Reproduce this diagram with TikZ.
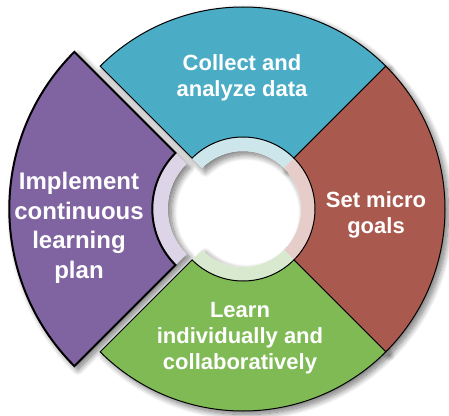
\documentclass[tikz,border=0pt]{standalone}
\usepackage{fontspec}
\setmainfont{Liberation Sans}
\usepackage{tikz}
\usetikzlibrary{shadows.blur}

\definecolor{segblue}{HTML}{4BACC6}
\definecolor{segred}{HTML}{A9594E}
\definecolor{seggreen}{HTML}{80BA55}
\definecolor{segpurple}{HTML}{8064A2}
\definecolor{bandblue}{HTML}{CDE6EC}
\definecolor{bandred}{HTML}{E6CDC9}
\definecolor{bandgreen}{HTML}{D9E9CF}
\definecolor{bandpurple}{HTML}{DDD5E7}

\begin{document}
\begin{tikzpicture}[x=1pt,y=1pt,
  seg/.style={draw=black,line width=1pt},
  soft/.style={blur shadow={shadow xshift=3.5pt,shadow yshift=-3.5pt,shadow blur radius=6pt,shadow blur steps=14,shadow opacity=55}},
  segtext/.style={text=white,font=\fontsize{22}{26}\selectfont\bfseries,align=center,inner sep=0pt}]
\useasboundingbox (-243,-206) rectangle (206,209);

% shadows first, so that no sector darkens its neighbour
\path[soft,fill=white] (45:202) arc[start angle=45,end angle=135,radius=202] -- (135:58) arc[start angle=135,end angle=45,radius=58] -- cycle;
\path[soft,fill=white] (-45:202) arc[start angle=-45,end angle=45,radius=202] -- (45:58) arc[start angle=45,end angle=-45,radius=58] -- cycle;
\path[soft,fill=white] (225:202) arc[start angle=225,end angle=315,radius=202] -- (315:58) arc[start angle=315,end angle=225,radius=58] -- cycle;
\begin{scope}[shift={(-11.5,0)},scale=1.1]
\path[soft,fill=white] (135:202) arc[start angle=135,end angle=225,radius=202] -- (225:58) arc[start angle=225,end angle=135,radius=58] -- cycle;
\end{scope}

% top: collect and analyze
\fill[bandblue] (45:72) arc[start angle=45,end angle=135,radius=72] -- (135:58) arc[start angle=135,end angle=45,radius=58] -- cycle;
\draw[seg,fill=segblue] (45:202) arc[start angle=45,end angle=135,radius=202] -- (135:72) arc[start angle=135,end angle=45,radius=72] -- cycle;

% right: micro goals
\fill[bandred] (-45:72) arc[start angle=-45,end angle=45,radius=72] -- (45:58) arc[start angle=45,end angle=-45,radius=58] -- cycle;
\draw[seg,fill=segred] (-45:202) arc[start angle=-45,end angle=45,radius=202] -- (45:72) arc[start angle=45,end angle=-45,radius=72] -- cycle;

% bottom: learn
\fill[bandgreen] (225:72) arc[start angle=225,end angle=315,radius=72] -- (315:58) arc[start angle=315,end angle=225,radius=58] -- cycle;
\draw[seg,fill=seggreen] (225:202) arc[start angle=225,end angle=315,radius=202] -- (315:72) arc[start angle=315,end angle=225,radius=72] -- cycle;

% left: implement, pulled out and enlarged
\begin{scope}[shift={(-11.5,0)},scale=1.1]
\fill[bandpurple] (135:72) arc[start angle=135,end angle=225,radius=72] -- (225:58) arc[start angle=225,end angle=135,radius=58] -- cycle;
\draw[seg,line width=2pt,fill=segpurple] (135:202) arc[start angle=135,end angle=225,radius=202] -- (225:72) arc[start angle=225,end angle=135,radius=72] -- cycle;
\end{scope}

\node[segtext] (collect) at (-1,131) {Collect and\\analyze data};
\node[segtext] (goals) at (133,-6) {Set micro\\goals};
\node[segtext] (learn) at (-3,-129) {Learn\\individually and\\collaboratively};
\node[segtext,font=\fontsize{24}{29.5}\selectfont\bfseries] (implement) at (-164,-19) {Implement\\continuous\\learning\\plan};
\end{tikzpicture}
\end{document}
